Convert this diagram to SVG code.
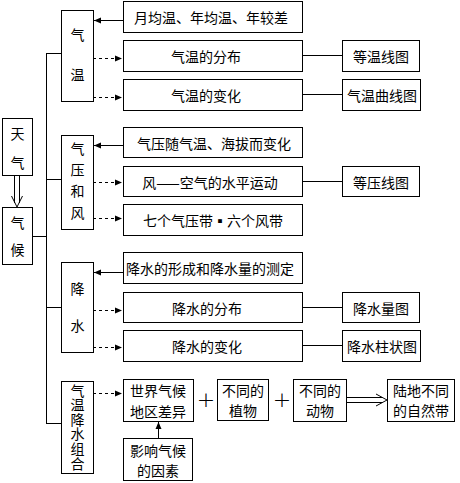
<svg xmlns="http://www.w3.org/2000/svg" width="460" height="483" viewBox="0 0 460 483">
<style>
rect{fill:#fff;stroke:#000;stroke-width:1}
text{font-family:"Noto Sans CJK SC","Noto Sans CJK TC",sans-serif;font-size:14px;fill:#000;text-anchor:middle;dominant-baseline:central}
.c line,.c polyline{stroke:#000;stroke-width:1;fill:none}
.d{stroke-dasharray:3 3}
.v{writing-mode:vertical-rl;letter-spacing:0.6px}
.plus{font-family:"DejaVu Sans",sans-serif;font-weight:200;font-size:22px}
</style>
<defs>
<marker id="ah" markerUnits="userSpaceOnUse" markerWidth="8" markerHeight="8" refX="7" refY="4" orient="auto">
<path d="M0,1 L7,4 L0,7 Z" fill="#000"/>
</marker>
</defs>
<g class="c" id="connectors">
<line x1="46.5" y1="53" x2="46.5" y2="423.5"/>
<line x1="46" y1="53.5" x2="61" y2="53.5"/>
<line x1="46" y1="179.5" x2="61" y2="179.5"/>
<line x1="46" y1="307.5" x2="61" y2="307.5"/>
<line x1="46" y1="423.5" x2="61" y2="423.5"/>
<line x1="32" y1="236.5" x2="46" y2="236.5"/>
<line x1="14.5" y1="175" x2="14.5" y2="203"/>
<line x1="19.5" y1="175" x2="19.5" y2="203"/>
<polyline points="11.5,196 17,207 22.5,196"/>
<line x1="123" y1="20.5" x2="94" y2="20.5" marker-end="url(#ah)"/>
<line class="d" x1="93" y1="58.5" x2="122" y2="58.5" marker-end="url(#ah)"/>
<line class="d" x1="93" y1="97.5" x2="122" y2="97.5" marker-end="url(#ah)"/>
<line x1="302" y1="55.5" x2="342" y2="55.5"/>
<line x1="302" y1="94.5" x2="342" y2="94.5"/>
<line x1="123" y1="145.5" x2="94" y2="145.5" marker-end="url(#ah)"/>
<line class="d" x1="93" y1="182.5" x2="122" y2="182.5" marker-end="url(#ah)"/>
<line class="d" x1="93" y1="218.5" x2="122" y2="218.5" marker-end="url(#ah)"/>
<line x1="302" y1="181.5" x2="342" y2="181.5"/>
<line x1="123" y1="272.5" x2="94" y2="272.5" marker-end="url(#ah)"/>
<line class="d" x1="93" y1="310.5" x2="122" y2="310.5" marker-end="url(#ah)"/>
<line class="d" x1="93" y1="347.5" x2="122" y2="347.5" marker-end="url(#ah)"/>
<line x1="302" y1="307.5" x2="342" y2="307.5"/>
<line x1="302" y1="345.5" x2="342" y2="345.5"/>
<line class="d" x1="93" y1="393.5" x2="122" y2="393.5" marker-end="url(#ah)"/>
<line x1="158.5" y1="438" x2="158.5" y2="422" marker-end="url(#ah)"/>
<line x1="346" y1="397.5" x2="382" y2="397.5"/>
<line x1="346" y1="402.5" x2="382" y2="402.5"/>
<polyline points="376,394 387,400 376,406"/>
</g>
<g id="tianqi"><rect x="2.5" y="118.5" width="30" height="57"/><text x="17.5" y="133">天</text><text x="17.5" y="162">气</text></g>
<g id="qihou"><rect x="2.5" y="207.5" width="30" height="57"/><text x="17.5" y="222">气</text><text x="17.5" y="249">候</text></g>
<g id="qiwen"><rect x="61.5" y="10.5" width="32" height="91"/><text x="77.5" y="34">气</text><text x="77.5" y="74">温</text></g>
<g id="yuejunwen"><rect x="123.5" y="1.5" width="179" height="31"/><text x="211" y="17">月均温、年均温、年较差</text></g>
<g id="qiwenfenbu"><rect x="123.5" y="40.5" width="179" height="31"/><text x="206" y="56">气温的分布</text></g>
<g id="qiwenbianhua"><rect x="123.5" y="79.5" width="179" height="31"/><text x="206" y="95">气温的变化</text></g>
<g id="dengwenxiantu"><rect x="342.5" y="40.5" width="77" height="31"/><text x="381" y="56">等温线图</text></g>
<g id="qiwenquxiantu"><rect x="342.5" y="79.5" width="78" height="31"/><text x="382" y="95">气温曲线图</text></g>
<g id="qiyahefeng"><rect x="61.5" y="135.5" width="32" height="94"/><text x="77.5" y="148">气</text><text x="77.5" y="169">压</text><text x="77.5" y="190">和</text><text x="77.5" y="212">风</text></g>
<g id="qiyasui"><rect x="123.5" y="127.5" width="179" height="30"/><text x="214" y="142.5">气压随气温、海拔而变化</text></g>
<g id="feng"><rect x="123.5" y="166.5" width="179" height="30"/><text x="210" y="181.5">风——空气的水平运动</text></g>
<g id="qigeqiyadai"><rect x="123.5" y="204.5" width="179" height="31"/><text x="213" y="220">七个气压带▪六个风带</text></g>
<g id="dengyaxiantu"><rect x="342.5" y="166.5" width="77" height="30"/><text x="381" y="181.5">等压线图</text></g>
<g id="jiangshui"><rect x="61.5" y="262.5" width="32" height="90"/><text x="77.5" y="288">降</text><text x="77.5" y="325">水</text></g>
<g id="jiangshuixingcheng"><rect x="123.5" y="252.5" width="179" height="31"/><text x="210" y="268">降水的形成和降水量的测定</text></g>
<g id="jiangshuifenbu"><rect x="123.5" y="292.5" width="179" height="30"/><text x="207" y="307.5">降水的分布</text></g>
<g id="jiangshuibianhua"><rect x="123.5" y="330.5" width="179" height="31"/><text x="207" y="346">降水的变化</text></g>
<g id="jiangshuiliangtu"><rect x="342.5" y="292.5" width="77" height="30"/><text x="381" y="307.5">降水量图</text></g>
<g id="jiangshuizhuzhuangtu"><rect x="342.5" y="330.5" width="78" height="31"/><text x="382" y="346">降水柱状图</text></g>
<g id="zuhe"><rect x="61.5" y="381.5" width="32" height="92"/><text class="v" x="77.5" y="427">气温降水组合</text></g>
<g id="shijieqihou"><rect x="123.5" y="379.5" width="70" height="42"/><text x="158" y="390"><tspan x="158">世界气候</tspan><tspan x="158" dy="20.5">地区差异</tspan></text></g>
<g id="yingxiang"><rect x="123.5" y="438.5" width="69" height="42"/><text x="158" y="449.5"><tspan x="158">影响气候</tspan><tspan x="158" dy="20.5">的因素</tspan></text></g>
<g id="plus1"><text class="plus" x="206" y="399">+</text></g>
<g id="zhiwu"><rect x="217.5" y="379.5" width="51" height="41"/><text x="243" y="389.5"><tspan x="243">不同的</tspan><tspan x="243" dy="20.5">植物</tspan></text></g>
<g id="plus2"><text class="plus" x="282" y="399">+</text></g>
<g id="dongwu"><rect x="293.5" y="379.5" width="53" height="42"/><text x="320" y="389.5"><tspan x="320">不同的</tspan><tspan x="320" dy="20.5">动物</tspan></text></g>
<g id="zirandai"><rect x="387.5" y="379.5" width="67" height="42"/><text x="421" y="389.5"><tspan x="421">陆地不同</tspan><tspan x="421" dy="20.5">的自然带</tspan></text></g>
</svg>
